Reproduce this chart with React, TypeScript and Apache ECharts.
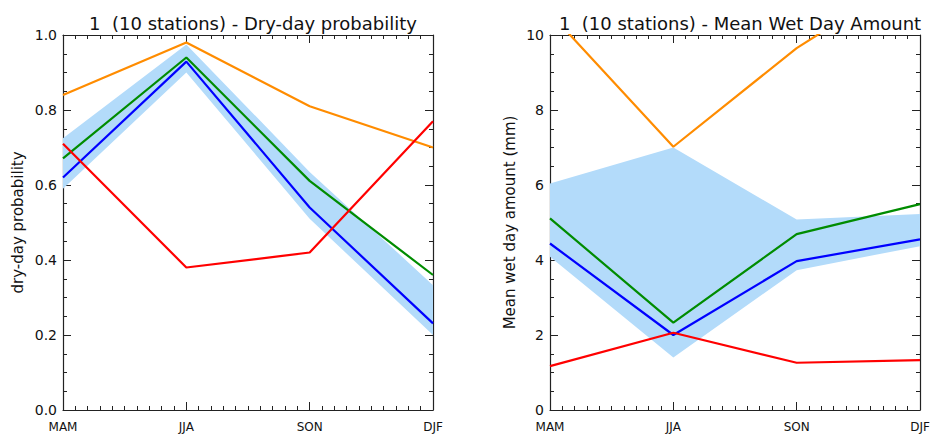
import React, { useEffect, useRef } from "react";
import * as echarts from "echarts";

const seasons = ["MAM", "JJA", "SON", "DJF"];

// Left panel: dry-day probability
const dryOrange = [0.84, 0.98, 0.81, 0.70];
const dryGreen = [0.671, 0.94, 0.611, 0.36];
const dryBlue = [0.62, 0.929, 0.54, 0.231];
const dryRed = [0.71, 0.38, 0.42, 0.77];
const dryBandLow = [0.59, 0.90, 0.51, 0.20];
const dryBandHigh = [0.725, 0.975, 0.635, 0.333];

// Right panel: mean wet day amount (mm)
const wetOrange = [10.58, 7.02, 9.65, 11.73];
const wetGreen = [5.11, 2.33, 4.69, 5.49];
const wetBlue = [4.44, 2.0, 3.97, 4.55];
const wetRed = [1.17, 2.06, 1.26, 1.33];
const wetBandLow = [4.09, 1.4, 3.73, 4.37];
const wetBandHigh = [6.04, 7.0, 5.08, 5.23];

const leftTicks = [0, 0.2, 0.4, 0.6, 0.8, 1.0];
const rightTicks = [0, 2, 4, 6, 8, 10];

const FONT = "DejaVu Sans";
const AX = "#222";
const BAND = "#b3dbfa";

const pts = (arr: number[]) => arr.map((v, i) => [i, v]);

export default function App() {
  const ref = useRef<HTMLDivElement>(null);
  useEffect(() => {
    if (!ref.current) return;
    const chart = echarts.init(ref.current, null, { renderer: "svg" });

    const grids = [
      { left: 63, top: 35, width: 370, height: 375 },
      { left: 550, top: 35, width: 370, height: 375 },
    ];

    const xAxisBase = (gridIndex: number, position: "bottom" | "top", show: boolean) => ({
      type: "value",
      gridIndex,
      position,
      min: 0,
      max: 3,
      interval: 1,
      axisLine: { show: true, onZero: false, lineStyle: { color: AX, width: 1.2 } },
      axisTick: { show: true, inside: true, length: 8, lineStyle: { color: AX } },
      minorTick: { show: true, splitNumber: 10, length: 4, lineStyle: { color: AX } },
      splitLine: { show: false },
      minorSplitLine: { show: false },
      axisLabel: {
        show,
        margin: 11,
        fontFamily: FONT,
        fontSize: 12,
        color: "#111",
        formatter: (v: number) => seasons[Math.round(v)] ?? "",
      },
    });

    const yAxisBase = (
      gridIndex: number,
      position: "left" | "right",
      show: boolean,
      max: number,
      interval: number,
      ticks: number[],
      name: string,
      nameGap: number,
      decimals: number
    ) => ({
      type: "value",
      gridIndex,
      position,
      min: ticks[0],
      max,
      interval,
      name: show ? name : "",
      nameLocation: "middle",
      nameRotate: 90,
      nameGap,
      nameTextStyle: { fontFamily: FONT, fontSize: 15, color: "#111" },
      axisLine: { show: true, onZero: false, lineStyle: { color: AX, width: 1.2 } },
      axisTick: { show: true, inside: true, length: 8, lineStyle: { color: AX } },
      minorTick: { show: true, splitNumber: 4, length: 4, lineStyle: { color: AX } },
      splitLine: { show: false },
      minorSplitLine: { show: false },
      axisLabel: {
        show,
        margin: 6,
        fontFamily: FONT,
        fontSize: 14,
        color: "#111",
        formatter: (v: number) => v.toFixed(decimals),
      },
    });

    const lineSeries = (name: string, data: number[], color: string, xi: number, yi: number) => ({
      name,
      type: "line",
      xAxisIndex: xi,
      yAxisIndex: yi,
      data: pts(data),
      showSymbol: false,
      symbol: "none",
      clip: true,
      lineStyle: { color, width: 2.2 },
      z: 3,
    });

    const bandSeries = (low: number[], high: number[], xi: number, yi: number) => ({
      type: "custom",
      xAxisIndex: xi,
      yAxisIndex: yi,
      data: low.map((l, i) => [i, l, high[i]]),
      encode: { x: 0, y: [1, 2] },
      z: 1,
      renderItem: (params: any, api: any) => {
        if (params.dataIndex !== 0) return null;
        const top = high.map((h, i) => api.coord([i, h]));
        const bot = low.map((l, i) => api.coord([i, l])).reverse();
        return {
          type: "polygon",
          shape: { points: [...top, ...bot] },
          style: { fill: BAND, stroke: null },
        };
      },
    });

    chart.setOption({
      animation: false,
      backgroundColor: "#fff",
      title: [
        {
          text: "1  (10 stations) - Dry-day probability",
          left: 248,
          top: 9,
          textAlign: "center",
          textStyle: { fontFamily: FONT, fontSize: 18, fontWeight: "normal", color: "#111" },
        },
        {
          text: "1  (10 stations) - Mean Wet Day Amount",
          left: 735,
          top: 9,
          textAlign: "center",
          textStyle: { fontFamily: FONT, fontSize: 18, fontWeight: "normal", color: "#111" },
        },
      ],
      grid: grids,
      xAxis: [
        xAxisBase(0, "bottom", true),
        xAxisBase(1, "bottom", true),
        xAxisBase(0, "top", false),
        xAxisBase(1, "top", false),
      ],
      yAxis: [
        yAxisBase(0, "left", true, 1, 0.2, leftTicks, "dry-day probability", 38, 1),
        yAxisBase(1, "left", true, 10, 2, rightTicks, "Mean wet day amount (mm)", 33, 0),
        yAxisBase(0, "right", false, 1, 0.2, leftTicks, "", 0, 1),
        yAxisBase(1, "right", false, 10, 2, rightTicks, "", 0, 0),
      ],
      series: [
        bandSeries(dryBandLow, dryBandHigh, 0, 0),
        lineSeries("dry orange", dryOrange, "#ff8c00", 0, 0),
        lineSeries("dry green", dryGreen, "#008c00", 0, 0),
        lineSeries("dry blue", dryBlue, "#0000ff", 0, 0),
        lineSeries("dry red", dryRed, "#ff0000", 0, 0),
        bandSeries(wetBandLow, wetBandHigh, 1, 1),
        lineSeries("wet orange", wetOrange, "#ff8c00", 1, 1),
        lineSeries("wet green", wetGreen, "#008c00", 1, 1),
        lineSeries("wet blue", wetBlue, "#0000ff", 1, 1),
        lineSeries("wet red", wetRed, "#ff0000", 1, 1),
      ],
    });
    return () => chart.dispose();
  }, []);
  return (
    <div
      ref={ref}
      style={{ position: "fixed", left: 0, top: 0, width: 936, height: 437, background: "#fff" }}
    />
  );
}
